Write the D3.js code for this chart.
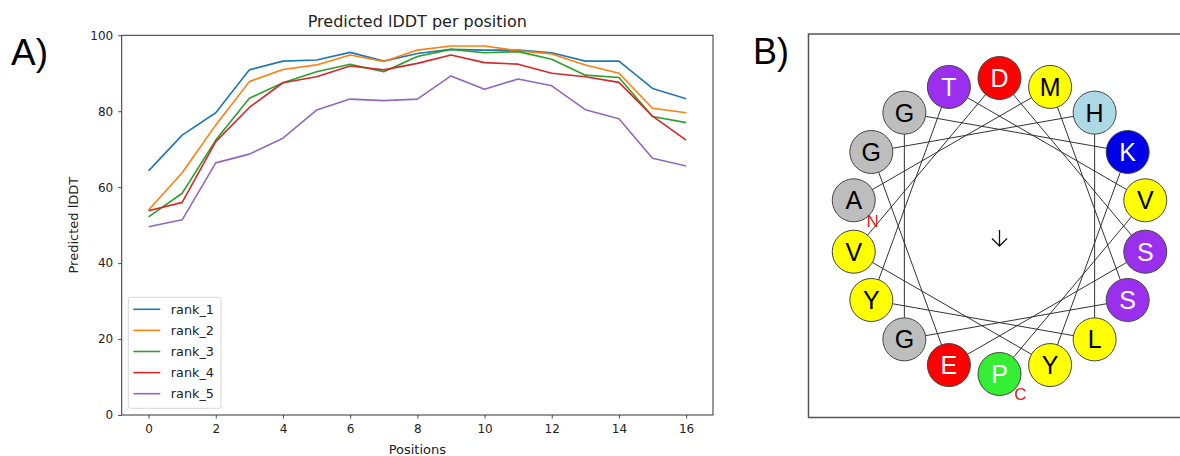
<!DOCTYPE html>
<html>
<head>
<meta charset="utf-8">
<script src="https://cdn.jsdelivr.net/npm/d3@7"></script>
<style>
  body { margin: 0; background: #fff; }
  svg { display: block; }
</style>
</head>
<body>
<div id="chart"></div>
<script>
// panel A data
var positions = d3.range(0, 17);
var seriesNames = ["rank_1", "rank_2", "rank_3", "rank_4", "rank_5"];
var rank1 = [64.3, 73.7, 79.6, 90.9, 93.2, 93.5, 95.5, 93.2, 95.2, 96.3, 96.1, 96.1, 95.4, 93.2, 93.2, 86.0, 83.3];
var rank2 = [54.0, 63.8, 76.4, 87.8, 91.0, 92.2, 94.8, 93.1, 96.1, 97.2, 97.2, 95.9, 95.1, 92.2, 90.0, 80.8, 79.6];
var rank3 = [52.2, 58.4, 72.4, 83.4, 87.5, 90.4, 92.4, 90.4, 94.4, 96.3, 95.4, 95.7, 93.7, 89.5, 88.9, 78.6, 77.0];
var rank4 = [53.8, 56.0, 72.0, 81.0, 87.5, 89.1, 91.9, 90.9, 92.6, 94.8, 92.8, 92.4, 90.0, 89.1, 87.6, 78.7, 72.4];
var rank5 = [49.6, 51.4, 66.4, 68.7, 72.9, 80.3, 83.2, 82.8, 83.2, 89.3, 85.8, 88.5, 86.7, 80.4, 78.0, 67.6, 65.6];
var seriesColors = ["#1f77b4", "#ff7f0e", "#2ca02c", "#d62728", "#9467bd"];
var xTicks = [0, 2, 4, 6, 8, 10, 12, 14, 16];
var yTicks = [0, 20, 40, 60, 80, 100];

// panel B data (helical wheel, N -> C)
var residues = ["A", "M", "S", "G", "G", "K", "Y", "V", "D", "S", "E", "G", "H", "L", "Y", "T", "V", "P"];
var residueFill = { A: "#bdbdbd", G: "#bdbdbd", M: "#ffff00", V: "#ffff00", Y: "#ffff00", L: "#ffff00",
    S: "#9a30ee", T: "#9a30ee", D: "#ff0000", E: "#ff0000", K: "#0000e8", H: "#add8e6", P: "#33ee33" };
var whiteText = ["S", "T", "D", "E", "K", "P"];

var svgWidth = 1180, svgHeight = 456;
var font = "'DejaVu Sans', sans-serif";
var arial = "'Liberation Sans', Arial, sans-serif";

var svg = d3.select("#chart").append("svg")
    .attr("width", svgWidth)
    .attr("height", svgHeight);

svg.append("rect").attr("width", svgWidth).attr("height", svgHeight).attr("fill", "#fff");

// ---------- panel A ----------
var plot = { left: 121.7, right: 713, top: 35.3, bottom: 415 };

var xScale = d3.scaleLinear()
    .domain([-0.8, 16.8])
    .range([plot.left, plot.right]);

var yScale = d3.scaleLinear()
    .domain([0, 100])
    .range([plot.bottom, plot.top]);

var series = [rank1, rank2, rank3, rank4, rank5];

var line = d3.line()
    .x(function(d, i) { return xScale(positions[i]); })
    .y(function(d) { return yScale(d); });

svg.selectAll("path.rank")
    .data(series)
    .enter()
    .append("path")
    .attr("class", "rank")
    .attr("d", line)
    .attr("fill", "none")
    .attr("stroke", function(d, i) { return seriesColors[i]; })
    .attr("stroke-width", 1.6)
    .attr("stroke-linejoin", "round");

var xAxis = svg.append("g")
    .attr("transform", "translate(0," + plot.bottom + ")")
    .call(d3.axisBottom(xScale).tickValues(xTicks).tickSize(3.5).tickPadding(6).tickSizeOuter(0));

var yAxis = svg.append("g")
    .attr("transform", "translate(" + plot.left + ",0)")
    .call(d3.axisLeft(yScale).tickValues(yTicks).tickSize(3.5).tickPadding(5).tickSizeOuter(0));

[xAxis, yAxis].forEach(function(ax) {
    ax.select(".domain").remove();
    ax.selectAll("line").attr("stroke", "#333").attr("stroke-width", 0.9);
    ax.selectAll("text").attr("fill", "#222").style("font-family", font).style("font-size", "12px");
});

svg.append("rect")
    .attr("x", plot.left)
    .attr("y", plot.top)
    .attr("width", plot.right - plot.left)
    .attr("height", plot.bottom - plot.top)
    .attr("fill", "none")
    .attr("stroke", "#333")
    .attr("stroke-width", 1);

svg.append("text")
    .attr("x", (plot.left + plot.right) / 2)
    .attr("y", 27)
    .attr("text-anchor", "middle")
    .style("font-family", font)
    .style("font-size", "16px")
    .attr("fill", "#222")
    .text("Predicted lDDT per position");

svg.append("text")
    .attr("x", (plot.left + plot.right) / 2)
    .attr("y", 454)
    .attr("text-anchor", "middle")
    .style("font-family", font)
    .style("font-size", "13px")
    .attr("fill", "#222")
    .text("Positions");

svg.append("text")
    .attr("transform", "translate(78," + (plot.top + plot.bottom) / 2 + ") rotate(-90)")
    .attr("text-anchor", "middle")
    .style("font-family", font)
    .style("font-size", "13px")
    .attr("fill", "#222")
    .text("Predicted lDDT");

// legend
var legend = svg.append("g").attr("transform", "translate(128.3,297.3)");

legend.append("rect")
    .attr("width", 92.7)
    .attr("height", 111)
    .attr("rx", 2.5)
    .attr("fill", "#fff")
    .attr("fill-opacity", 0.8)
    .attr("stroke", "#d8d8d8");

var legendItems = legend.selectAll("g.item")
    .data(seriesNames)
    .enter()
    .append("g")
    .attr("class", "item")
    .attr("transform", function(d, i) { return "translate(0," + (12 + i * 21.1) + ")"; });

legendItems.append("line")
    .attr("x1", 5).attr("x2", 32)
    .attr("stroke", function(d, i) { return seriesColors[i]; })
    .attr("stroke-width", 1.6);

legendItems.append("text")
    .attr("x", 42.5)
    .attr("dy", "0.35em")
    .style("font-family", font)
    .style("font-size", "12.8px")
    .attr("fill", "#222")
    .text(function(d) { return d; });

svg.append("text")
    .attr("x", 11)
    .attr("y", 65)
    .style("font-family", arial)
    .style("font-size", "37px")
    .attr("fill", "#000")
    .text("A)");

// ---------- panel B ----------
svg.append("text")
    .attr("x", 753)
    .attr("y", 63.5)
    .style("font-family", arial)
    .style("font-size", "36px")
    .attr("fill", "#000")
    .text("B)");

svg.append("rect")
    .attr("x", 808.5)
    .attr("y", 34)
    .attr("width", 400)
    .attr("height", 383.5)
    .attr("fill", "#fff")
    .attr("stroke", "#555")
    .attr("stroke-width", 1.5);

var cx = 999.5, cy = 226, wheelR = 148, dotR = 21.5;

var angle = d3.scaleLinear()
    .domain([0, 1])
    .range([280, 380]);

var wheel = residues.map(function(r, i) {
    var a = (angle(i) % 360) * Math.PI / 180;
    return { res: r, x: cx + wheelR * Math.sin(a), y: cy - wheelR * Math.cos(a) };
});

svg.append("path")
    .datum(wheel)
    .attr("d", d3.line().x(function(d) { return d.x; }).y(function(d) { return d.y; }))
    .attr("fill", "none")
    .attr("stroke", "#333")
    .attr("stroke-width", 1);

var dots = svg.selectAll("g.res")
    .data(wheel)
    .enter()
    .append("g")
    .attr("class", "res")
    .attr("transform", function(d) { return "translate(" + d.x + "," + d.y + ")"; });

dots.append("circle")
    .attr("r", dotR)
    .attr("fill", function(d) { return residueFill[d.res]; })
    .attr("stroke", "#444")
    .attr("stroke-width", 1);

dots.append("text")
    .attr("text-anchor", "middle")
    .attr("dy", "0.36em")
    .style("font-family", arial)
    .style("font-size", "25px")
    .attr("fill", function(d) { return whiteText.indexOf(d.res) >= 0 ? "#fff" : "#000"; })
    .text(function(d) { return d.res; });

// terminus labels
var first = wheel[0], last = wheel[wheel.length - 1];
svg.append("text")
    .attr("x", first.x + 19).attr("y", first.y + 27)
    .attr("text-anchor", "middle")
    .style("font-family", arial).style("font-size", "17px")
    .attr("fill", "#d42020")
    .text("N");

svg.append("text")
    .attr("x", last.x + 21).attr("y", last.y + 26)
    .attr("text-anchor", "middle")
    .style("font-family", arial).style("font-size", "17px")
    .attr("fill", "#d42020")
    .text("C");

// moment arrow
var arrow = svg.append("g").attr("fill", "none").attr("stroke", "#111").attr("stroke-width", 1.3);
arrow.append("line").attr("x1", cx).attr("y1", cy + 4).attr("x2", cx).attr("y2", cy + 20);
arrow.append("polyline").attr("points", [[cx - 7.5, cy + 12.5], [cx, cy + 20], [cx + 7.5, cy + 12.5]].join(" "));
</script>
</body>
</html>
